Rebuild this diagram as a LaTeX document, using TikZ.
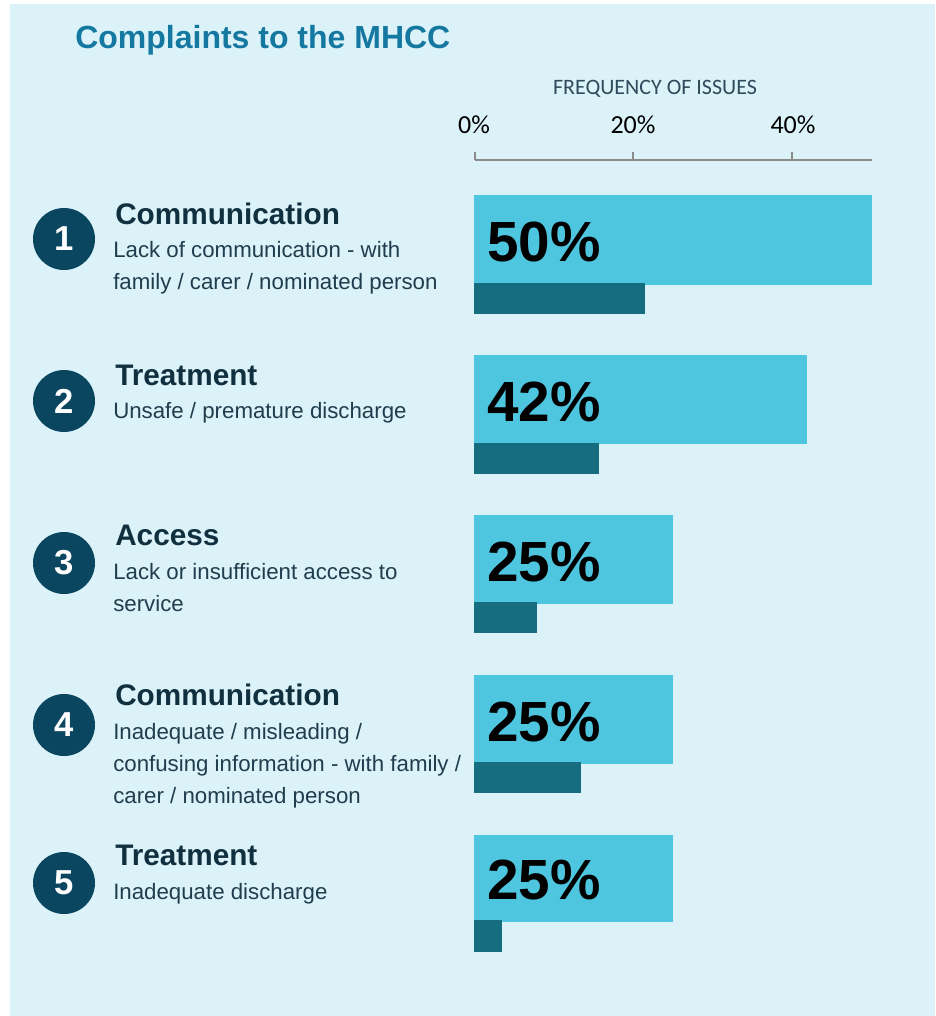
\documentclass[tikz,border=0pt]{standalone}
\usepackage{fontspec}
\setmainfont{Liberation Sans}
\newfontfamily\calibri{Carlito}
\usepackage{xcolor}
\definecolor{panelbg}{HTML}{DCF2F9}
\definecolor{titleblue}{HTML}{1478A0}
\definecolor{barlight}{HTML}{4FC6E0}
\definecolor{bardark}{HTML}{176D80}
\definecolor{numcircle}{HTML}{0B4660}
\definecolor{headtext}{HTML}{10303F}
\definecolor{desctext}{HTML}{1F3D4D}
\definecolor{axisgray}{HTML}{8A8A8A}
\definecolor{axtext}{HTML}{2D4B5B}
\tikzset{numdot/.style={circle, fill=numcircle, inner sep=0pt, minimum size=46.5pt,
           text=white, font=\fontsize{26}{26}\selectfont\bfseries},
         headline/.style={anchor=base west, inner sep=0pt, text=headtext,
           font=\fontsize{22.3}{22.3}\selectfont\bfseries},
         descline/.style={anchor=base west, inner sep=0pt, align=left, text=desctext,
           font=\fontsize{16.7}{24}\selectfont},
         pctlabel/.style={anchor=base west, inner sep=0pt, text=black,
           font=\fontsize{42.5}{42.5}\selectfont\bfseries},
         ticklabel/.style={anchor=base, inner sep=0pt, text=black,
           font=\calibri\fontsize{19.5}{19.5}\selectfont},
         barlo/.style={fill=barlight},
         barhi/.style={fill=bardark}}

\begin{document}
\begin{tikzpicture}[x=0.75pt, y=-0.75pt]
        % Panel
        \fill[white] (0,0) rectangle (935,1016);
        \fill[panelbg] (10,4) rectangle (935,1016);
        \useasboundingbox (0,0) rectangle (935,1016);

        % Title
        \node[anchor=base west, inner sep=0pt, text=titleblue,
              font=\fontsize{24}{24}\selectfont\bfseries] (title) at (75,49) {Complaints to the MHCC};

        % Axis
        \node[anchor=base, inner sep=0pt, text=axtext,
              font=\calibri\fontsize{16.5}{16.5}\selectfont] (axlabel) at (655,95) {FREQUENCY OF ISSUES};
        \node[ticklabel] (tick0) at (474,134) {0\%};
        \node[ticklabel] (tick20) at (633,134) {20\%};
        \node[ticklabel] (tick40) at (793,134) {40\%};
        \coordinate (ax0) at (475,160);
        \coordinate (ax20) at (633,160);
        \coordinate (ax40) at (792,160);
        \coordinate (axend) at (872,160);
        \draw[axisgray, line width=1.1pt] (ax0) -- (axend);
        \draw[axisgray, line width=1.1pt] (ax0) -- ++(0,-8);
        \draw[axisgray, line width=1.1pt] (ax20) -- ++(0,-8);
        \draw[axisgray, line width=1.1pt] (ax40) -- ++(0,-8);

        % Bars
        \fill[barlo] (474,195) rectangle (872,285);
        \fill[barhi] (474,283) rectangle (645,314);
        \fill[barlo] (474,355) rectangle (807,444);
        \fill[barhi] (474,443) rectangle (599,474);
        \fill[barlo] (474,515) rectangle (673,604);
        \fill[barhi] (474,602) rectangle (537,633);
        \fill[barlo] (474,675) rectangle (673,764);
        \fill[barhi] (474,762) rectangle (581,793);
        \fill[barlo] (474,835) rectangle (673,922);
        \fill[barhi] (474,920) rectangle (502,952);

        % Percentages
        \node[pctlabel] (p1) at (487,261) {50\%};
        \node[pctlabel] (p2) at (487,421) {42\%};
        \node[pctlabel] (p3) at (487,581) {25\%};
        \node[pctlabel] (p4) at (487,741) {25\%};
        \node[pctlabel] (p5) at (487,899) {25\%};

        % Numbers
        \node[numdot] (n1) at (64,239) {1};
        \node[numdot] (n2) at (64,401) {2};
        \node[numdot] (n3) at (64,563) {3};
        \node[numdot] (n4) at (64,725) {4};
        \node[numdot] (n5) at (64,883) {5};

        % Issues (base of a multi-line text is its last line)
        \node[headline] (h1) at (115,224) {Communication};
        \node[descline] (d1) at (113,289) {Lack of communication - with\\family / carer / nominated person};
        \node[headline] (h2) at (115,385) {Treatment};
        \node[descline] (d2) at (113,418) {Unsafe / premature discharge};
        \node[headline] (h3) at (115,545) {Access};
        \node[descline] (d3) at (113,611) {Lack or insufficient access to\\service};
        \node[headline] (h4) at (115,705) {Communication};
        \node[descline] (d4) at (113,803) {Inadequate / misleading /\\confusing information - with family /\\carer / nominated person};
        \node[headline] (h5) at (115,865) {Treatment};
        \node[descline] (d5) at (113,899) {Inadequate discharge};
    \end{tikzpicture}
\end{document}
